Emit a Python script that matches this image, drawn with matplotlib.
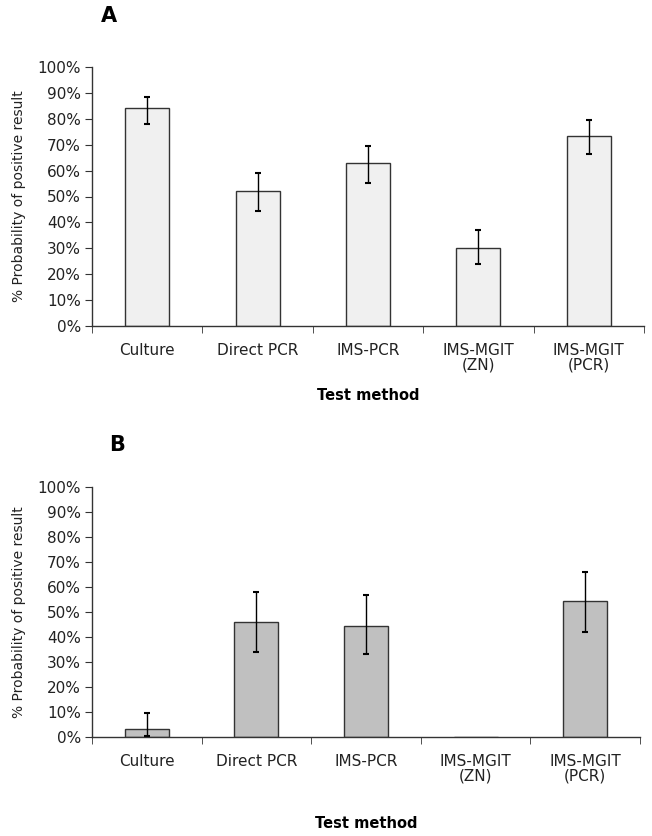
import numpy as np
import matplotlib.pyplot as plt
from matplotlib.ticker import PercentFormatter

plt.rcParams['font.family'] = ['DejaVu Sans']

methods = ['Culture', 'Direct PCR', 'IMS-PCR', 'IMS-MGIT\n(ZN)', 'IMS-MGIT\n(PCR)']

# panel A
prob_A = [84, 52, 63, 30, 73.5]
err_A_hi = [88.4, 59, 69.5, 36.9, 79.4]
err_A_lo = [78, 44.5, 55.3, 23.8, 66.3]

# panel B
prob_B = [3.1, 46, 44.5, 0, 54.3]
err_B_hi = [9.5, 58, 56.8, 0, 65.9]
err_B_lo = [0.5, 34, 33.1, 0, 41.9]

fig = plt.figure(figsize=(6.52, 8.36), dpi=100)
W, H = 652, 836

def panel(rect, vals, hi, lo, color, letter, letter_pos, xlab_y):
    l, t, r, b = rect
    ax = fig.add_axes([l / W, 1 - b / H, (r - l) / W, (b - t) / H])
    x = np.arange(len(methods))
    vals = np.array(vals)
    yerr = [vals - np.array(lo), np.array(hi) - vals]
    ax.bar(x, vals, width=0.4, color=color, edgecolor='#333333', linewidth=1.0, zorder=2)
    has = vals > 0
    ax.errorbar(x[has], vals[has], yerr=[yerr[0][has], yerr[1][has]], fmt='none',
                ecolor='black', elinewidth=1.0, capsize=2.5, capthick=1.5, zorder=3)
    ax.set_xlim(-0.5, 4.5)
    ax.set_ylim(0, 100)
    ax.set_yticks(np.arange(0, 101, 10))
    ax.yaxis.set_major_formatter(PercentFormatter(decimals=0))
    ax.set_xticks(x)
    ax.set_xticklabels(methods, fontsize=11, linespacing=1.0, color='#222222')
    ax.set_xticks(np.arange(-0.5, 5, 1), minor=True)
    ax.tick_params(axis='x', which='major', length=0, pad=12)
    ax.tick_params(axis='x', which='minor', length=5, color='#333333', direction='out')
    ax.tick_params(axis='y', length=5, color='#333333', labelsize=11, pad=3,
                   labelcolor='#222222')
    for s in ['top', 'right']:
        ax.spines[s].set_visible(False)
    for s in ['left', 'bottom']:
        ax.spines[s].set_color('#333333')
        ax.spines[s].set_linewidth(1.0)
    ax.set_ylabel('% Probability of positive result', fontsize=10, labelpad=8,
                  color='#222222')
    fig.text(letter_pos[0] / W, 1 - letter_pos[1] / H, letter, fontsize=15,
             fontweight='bold', ha='left', va='center')
    fig.text(((l + r) / 2) / W, 1 - xlab_y / H, 'Test method', fontsize=10.5,
             fontweight='bold', ha='center', va='center')
    return ax

panel((92, 67, 644, 326), prob_A, err_A_hi, err_A_lo, '#f0f0f0', 'A', (101, 16), 395)
panel((92, 487, 640, 737), prob_B, err_B_hi, err_B_lo, '#c0c0c0', 'B', (109, 445), 823)

fig.savefig('out.png', dpi=100)
